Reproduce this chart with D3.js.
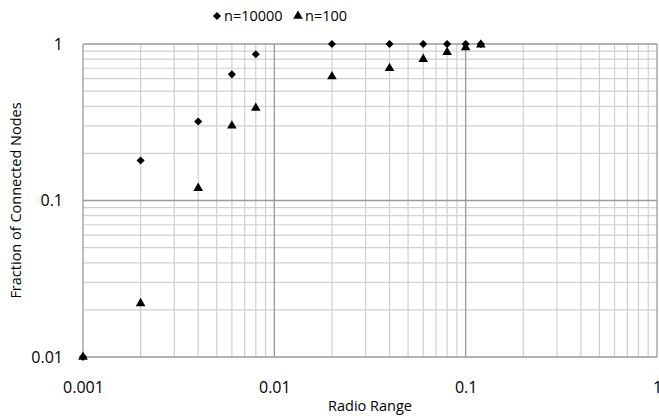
<!DOCTYPE html>
<html lang="en">
<head>
<meta charset="UTF-8">
<title>Fraction of Connected Nodes</title>
<script src="https://cdn.jsdelivr.net/npm/d3@7/dist/d3.min.js"></script>
<style>
  body { margin: 0; background: #fff; }
  text { font-family: "Open Sans", "Liberation Sans", sans-serif; fill: #000; }
</style>
</head>
<body>
<svg id="main" width="659" height="416"></svg>
<script>
    // radio range values (x) and fraction of connected nodes for each n
    const radioRange = [0.001, 0.002, 0.004, 0.006, 0.008, 0.02, 0.04, 0.06, 0.08, 0.1, 0.12];
    const n10000 = [0.01, 0.18, 0.32, 0.64, 0.86, 1.0, 1.0, 1.0, 1.0, 1.0, 1.0];
    const n100 = [0.01, 0.022, 0.12, 0.30, 0.39, 0.62, 0.70, 0.80, 0.885, 0.95, 0.99];
    const seriesNames = ['n=10000', 'n=100'];
    const xTicks = [0.001, 0.01, 0.1, 1];
    const yTicks = [0.01, 0.1, 1];

    let svg = d3.select('svg#main');
    const pLeft = 83, pRight = 657, pTop = 44, pBottom = 357;

    let x = d3.scaleLog().domain([0.001, 1]).range([pLeft, pRight]);
    let y = d3.scaleLog().domain([0.01, 1]).range([pBottom, pTop]);

    // minor grid: 2..9 of each decade
    let minorX = [], minorY = [];
    [0.001, 0.01, 0.1].forEach(d => { for (let k = 2; k <= 9; k++) minorX.push(d * k); });
    [0.01, 0.1].forEach(d => { for (let k = 2; k <= 9; k++) minorY.push(d * k); });

    svg.append('g').selectAll('line').data(minorX).enter().append('line')
        .attr('x1', d => x(d)).attr('x2', d => x(d))
        .attr('y1', pTop).attr('y2', pBottom)
        .attr('stroke', '#d0d0d0').attr('stroke-width', 1.2);
    svg.append('g').selectAll('line').data(minorY).enter().append('line')
        .attr('x1', pLeft).attr('x2', pRight)
        .attr('y1', d => y(d)).attr('y2', d => y(d))
        .attr('stroke', '#d0d0d0').attr('stroke-width', 1.2);

    // major grid
    svg.append('g').selectAll('line').data(xTicks).enter().append('line')
        .attr('x1', d => x(d)).attr('x2', d => x(d))
        .attr('y1', pTop).attr('y2', pBottom)
        .attr('stroke', '#9a9a9a').attr('stroke-width', 1.3);
    svg.append('g').selectAll('line').data(yTicks).enter().append('line')
        .attr('x1', pLeft).attr('x2', pRight)
        .attr('y1', d => y(d)).attr('y2', d => y(d))
        .attr('stroke', '#9a9a9a').attr('stroke-width', 1.3);

    // tick labels through d3 axes, domain and tick lines hidden
    let xAxis = svg.append('g')
        .attr('transform', 'translate(0,' + pBottom + ')')
        .call(d3.axisBottom(x).tickValues(xTicks).tickFormat(d => String(d)).tickSize(0).tickPadding(25));
    let yAxis = svg.append('g')
        .attr('transform', 'translate(' + pLeft + ',0)')
        .call(d3.axisLeft(y).tickValues(yTicks).tickFormat(d => String(d)).tickSize(0).tickPadding(20));
    [xAxis, yAxis].forEach(a => {
        a.select('.domain').remove();
        a.selectAll('text').attr('font-size', 16).attr('font-family', '"Open Sans", sans-serif').attr('fill', '#000');
    });

    svg.append('text').attr('x', (pLeft + pRight) / 2).attr('y', 411)
        .attr('text-anchor', 'middle').attr('font-size', 14.5).text('Radio Range');
    svg.append('text')
        .attr('transform', 'translate(21,' + (pTop + pBottom) / 2 + ') rotate(-90)')
        .attr('text-anchor', 'middle').attr('font-size', 14.5).text('Fraction of Connected Nodes');

    // markers
    const diamond = d3.symbol().type(d3.symbolDiamond2).size(42)();
    const triangle = d3.symbol().type(d3.symbolTriangle).size(40)();

    svg.append('g').selectAll('path').data(radioRange).enter().append('path')
        .attr('d', diamond)
        .attr('transform', (d, i) => 'translate(' + x(d) + ',' + y(n10000[i]) + ')')
        .attr('fill', '#000');
    svg.append('g').selectAll('path').data(radioRange).enter().append('path')
        .attr('d', triangle)
        .attr('transform', (d, i) => 'translate(' + x(d) + ',' + y(n100[i]) + ')')
        .attr('fill', '#000');

    // legend
    let legend = svg.append('g');
    legend.append('path').attr('d', diamond).attr('transform', 'translate(217,16)').attr('fill', '#000');
    legend.append('text').attr('x', 224).attr('y', 21).attr('font-size', 14.5).text(seriesNames[0]);
    legend.append('path').attr('d', triangle).attr('transform', 'translate(298,16)').attr('fill', '#000');
    legend.append('text').attr('x', 305).attr('y', 21).attr('font-size', 14.5).text(seriesNames[1]);
</script>
</body>
</html>
